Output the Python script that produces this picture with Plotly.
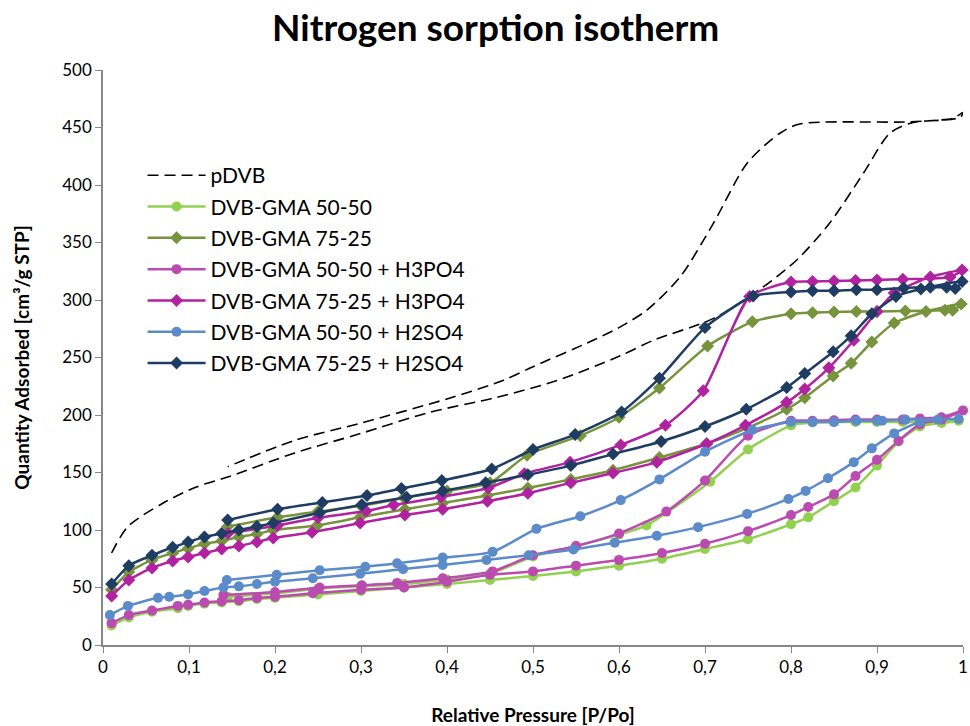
import plotly.graph_objects as go

# ---------------- data ----------------
x_ticks = [0, 0.1, 0.2, 0.3, 0.4, 0.5, 0.6, 0.7, 0.8, 0.9, 1]
x_tick_labels = ["0", "0,1", "0,2", "0,3", "0,4", "0,5", "0,6", "0,7", "0,8", "0,9", "1"]
y_ticks = [0, 50, 100, 150, 200, 250, 300, 350, 400, 450, 500]

# pDVB (no markers): adsorption branch then desorption branch
pdvb_ads_x = [0.01, 0.029, 0.069, 0.107, 0.145, 0.223, 0.30, 0.378, 0.456, 0.528, 0.60, 0.64, 0.71, 0.767, 0.807, 0.845, 0.884, 0.915, 0.94, 0.988, 1.0]
pdvb_ads_y = [80, 103, 123, 137, 146, 167, 184, 202, 215, 230, 251, 265, 284, 311, 335, 367, 410, 445, 454, 458, 463]
pdvb_des_x = [0.997, 0.938, 0.81, 0.787, 0.749, 0.71, 0.671, 0.632, 0.60, 0.57, 0.50, 0.465, 0.40, 0.30, 0.223, 0.145]
pdvb_des_y = [459, 455, 453, 445, 419, 367, 320, 291, 276, 265, 242, 230, 214, 193, 178, 155]

# DVB-GMA 50-50
g50_ads_x = [0.01, 0.03, 0.057, 0.087, 0.099, 0.118, 0.138, 0.158, 0.179, 0.2, 0.25, 0.3, 0.35, 0.4, 0.45, 0.5, 0.55, 0.6, 0.65, 0.7, 0.75, 0.8, 0.82, 0.85, 0.875, 0.9, 0.925, 0.95, 0.975, 0.995]
g50_ads_y = [17, 24, 29, 32, 34, 36, 37, 38, 40, 41, 44, 47, 50, 53, 56.5, 60, 64, 69, 75, 83.5, 92, 105, 111, 125, 137, 156, 177, 190, 193, 195]
g50_des_x = [0.975, 0.95, 0.93, 0.9, 0.875, 0.85, 0.825, 0.8, 0.75, 0.706, 0.632, 0.6, 0.55, 0.5, 0.45, 0.4, 0.35, 0.3, 0.25, 0.2, 0.145]
g50_des_y = [194, 194, 194, 194, 194, 194, 193.5, 191, 170, 142, 104, 96, 86, 77, 62, 57, 53, 51, 49, 45, 42]

# DVB-GMA 75-25
g75_ads_x = [0.01, 0.03, 0.057, 0.081, 0.099, 0.118, 0.138, 0.158, 0.179, 0.198, 0.249, 0.299, 0.351, 0.395, 0.447, 0.494, 0.544, 0.593, 0.647, 0.702, 0.75, 0.795, 0.816, 0.849, 0.870, 0.894, 0.920, 0.957, 0.998]
g75_ads_y = [48, 63.5, 74, 80, 84, 88, 90.5, 94, 96.5, 100, 104, 111, 118, 123.5, 130, 136.5, 144, 152, 163, 175, 189, 205, 215, 234, 245, 263.5, 280, 290, 296.5]
g75_des_x = [0.988, 0.979, 0.933, 0.90, 0.876, 0.85, 0.825, 0.80, 0.755, 0.703, 0.647, 0.60, 0.555, 0.493, 0.45, 0.4, 0.35, 0.3, 0.25, 0.203, 0.145]
g75_des_y = [291, 291, 290.5, 290, 290, 289.5, 289, 288, 281, 260, 223.5, 198, 182, 165, 141, 134, 128, 121, 116, 111, 103]

# DVB-GMA 50-50 + H3PO4
p50_ads_x = [0.01, 0.03, 0.057, 0.087, 0.099, 0.118, 0.138, 0.158, 0.179, 0.2, 0.244, 0.3, 0.35, 0.4, 0.45, 0.5, 0.55, 0.6, 0.65, 0.7, 0.75, 0.8, 0.82, 0.85, 0.875, 0.9, 0.925, 0.95, 0.975, 1.0]
p50_ads_y = [19, 26, 30, 34, 35, 37, 38, 39, 41, 42, 45, 48, 50, 55, 61, 64, 69, 74, 80, 88, 99, 113, 120, 131, 147, 161, 177.5, 192, 196, 204]
p50_des_x = [0.975, 0.95, 0.93, 0.9, 0.875, 0.85, 0.825, 0.8, 0.75, 0.7, 0.655, 0.6, 0.55, 0.5, 0.453, 0.395, 0.342, 0.301, 0.252, 0.2, 0.14]
p50_des_y = [198, 197, 196, 196, 196, 195.5, 195, 195, 182, 143, 116, 97, 86, 78, 64, 58, 54, 52, 50, 46, 43.5]

# DVB-GMA 75-25 + H3PO4
p75_ads_x = [0.01, 0.03, 0.057, 0.081, 0.099, 0.118, 0.138, 0.158, 0.179, 0.198, 0.243, 0.299, 0.351, 0.395, 0.447, 0.494, 0.544, 0.593, 0.644, 0.702, 0.747, 0.795, 0.816, 0.844, 0.873, 0.9, 0.92, 0.962, 0.999]
p75_ads_y = [42.6, 56.5, 67, 73, 76.5, 80, 83.5, 86, 89.6, 93, 98, 106, 113, 118, 125, 132, 141, 149.5, 159, 175, 191, 211, 222.6, 241, 265, 290, 306, 320, 326]
p75_des_x = [0.985, 0.93, 0.9, 0.875, 0.85, 0.825, 0.8, 0.752, 0.698, 0.654, 0.602, 0.543, 0.49, 0.448, 0.393, 0.338, 0.306, 0.25, 0.203, 0.145]
p75_des_y = [320, 318, 317.5, 317, 316.5, 316, 315.6, 303, 221, 191, 174, 159, 149, 136.5, 128.7, 121.7, 116.5, 110.6, 104, 97]

# DVB-GMA 50-50 + H2SO4
s50_ads_x = [0.008, 0.029, 0.064, 0.077, 0.099, 0.118, 0.14, 0.158, 0.179, 0.2, 0.244, 0.299, 0.349, 0.395, 0.446, 0.495, 0.547, 0.595, 0.644, 0.692, 0.749, 0.797, 0.817, 0.843, 0.873, 0.894, 0.92, 0.95, 0.971, 0.995]
s50_ads_y = [26, 34, 41, 42, 44, 47, 50, 51, 53, 55, 58, 62, 66, 69.5, 74, 78, 83, 89, 95, 102.5, 114, 127, 134, 145, 159, 171, 184, 194, 196, 196.5]
s50_des_x = [0.933, 0.906, 0.90, 0.876, 0.85, 0.825, 0.80, 0.755, 0.70, 0.647, 0.602, 0.555, 0.504, 0.453, 0.395, 0.342, 0.305, 0.252, 0.202, 0.144]
s50_des_y = [196, 195, 195, 195, 194, 194, 194, 187, 168, 144, 126, 112, 101, 81, 76, 71, 68, 65, 61, 56.5]

# DVB-GMA 75-25 + H2SO4
s75_ads_x = [0.01, 0.03, 0.057, 0.081, 0.099, 0.118, 0.138, 0.158, 0.179, 0.198, 0.252, 0.301, 0.353, 0.395, 0.445, 0.494, 0.544, 0.593, 0.649, 0.70, 0.748, 0.795, 0.816, 0.849, 0.870, 0.894, 0.922, 0.951, 0.999]
s75_ads_y = [53, 69, 78, 85, 89.5, 94, 97, 100, 103, 106, 115, 122, 128.5, 134, 141, 148, 156, 166, 177, 190, 205, 224, 236, 255, 269, 288, 303, 309.5, 316]
s75_des_x = [0.991, 0.981, 0.962, 0.931, 0.90, 0.876, 0.85, 0.825, 0.80, 0.756, 0.70, 0.647, 0.603, 0.549, 0.50, 0.452, 0.394, 0.347, 0.307, 0.255, 0.203, 0.145]
s75_des_y = [310, 311, 311, 310.5, 309, 309, 308, 308, 307, 303.5, 276, 232, 202.6, 183, 170, 153, 143, 136, 130, 124, 118, 108.6]

series = [
    ("DVB-GMA 50-50", g50_ads_x + g50_des_x, g50_ads_y + g50_des_y, "#92D050", "circle", 10),
    ("DVB-GMA 75-25", g75_ads_x + g75_des_x, g75_ads_y + g75_des_y, "#77933C", "diamond", 10),
    ("DVB-GMA 50-50 + H3PO4", p50_ads_x + p50_des_x, p50_ads_y + p50_des_y, "#BB4BB0", "circle", 10),
    ("DVB-GMA 75-25 + H3PO4", p75_ads_x + p75_des_x, p75_ads_y + p75_des_y, "#B0229F", "diamond", 10),
    ("DVB-GMA 50-50 + H2SO4", s50_ads_x + s50_des_x, s50_ads_y + s50_des_y, "#5B8BC9", "circle", 10),
    ("DVB-GMA 75-25 + H2SO4", s75_ads_x + s75_des_x, s75_ads_y + s75_des_y, "#1F3D63", "diamond", 10),
]

FONT = "Lato, 'Open Sans', sans-serif"

fig = go.Figure()
fig.add_trace(go.Scatter(
    x=pdvb_ads_x + pdvb_des_x, y=pdvb_ads_y + pdvb_des_y, name="pDVB",
    mode="lines", line=dict(color="#000000", width=1.6, dash="11px,6px", shape="spline", smoothing=0.8),
    legendgroup="g0", cliponaxis=False,
))
for i, (name, xs, ys, col, sym, sz) in enumerate(series):
    fig.add_trace(go.Scatter(
        x=xs, y=ys, name=name, mode="lines+markers",
        line=dict(color=col, width=2.5, shape="spline", smoothing=0.6),
        marker=dict(color=col, symbol=sym, size=sz),
        legendgroup="g%d" % (i + 1), cliponaxis=False,
    ))

fig.update_layout(
    width=970, height=726,
    margin=dict(l=103, r=7, t=70, b=81),
    paper_bgcolor="white", plot_bgcolor="white",
    font=dict(family=FONT, size=17, color="#000000"),
    title=dict(text="<b>Nitrogen sorption isotherm</b>", x=0.511, xanchor="center",
               y=0.961, yanchor="middle", font=dict(family=FONT, size=37, color="#000000")),
    showlegend=True,
    legend=dict(x=0.046, y=0.852, xanchor="left", yanchor="top", bgcolor="rgba(0,0,0,0)",
                font=dict(family=FONT, size=21, color="#000000"), tracegroupgap=1,
                itemwidth=58),
    xaxis=dict(range=[0, 1], tickvals=x_ticks, ticktext=x_tick_labels, showgrid=False,
               zeroline=False, showline=True, linecolor="#868686", linewidth=1.5,
               ticks="outside", ticklen=6, tickcolor="#868686", tickfont=dict(size=17),
               automargin=False,
               title=dict(text="<b>Relative Pressure [P/Po]</b>", font=dict(size=19), standoff=33)),
    yaxis=dict(range=[0, 500], tickvals=y_ticks, showgrid=False, zeroline=False,
               showline=True, linecolor="#868686", linewidth=1.5, ticks="outside",
               ticklen=6, tickcolor="#868686", tickfont=dict(size=17), automargin=False,
               title=dict(text="<b>Quantity Adsorbed [cm³/g STP]</b>", font=dict(size=19), standoff=28)),
)

fig.write_html("out.html")
